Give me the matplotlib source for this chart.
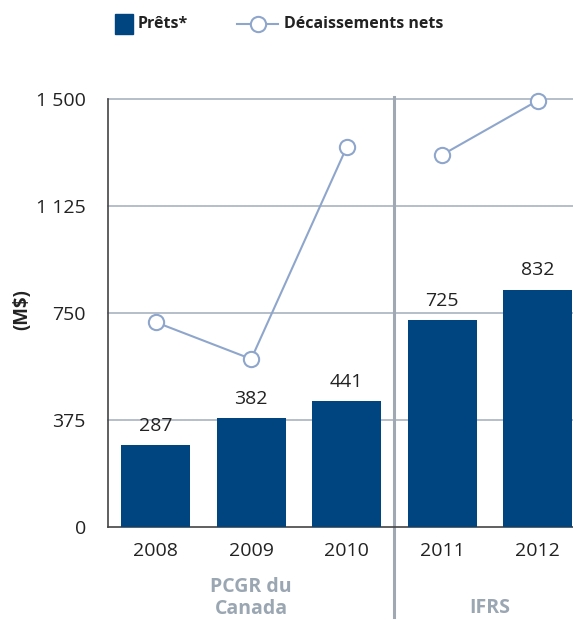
import matplotlib
matplotlib.use('Agg')
import matplotlib.pyplot as plt
from matplotlib.lines import Line2D
from matplotlib.patches import Rectangle
import numpy as np

plt.rcParams['font.family'] = ['Open Sans', 'DejaVu Sans']

annees = ['2008', '2009', '2010', '2011', '2012']
prets = [287, 382, 441, 725, 832]
decaissements = [718, 589, 1332, 1305, 1495]
graduations = [0, 375, 750, 1125, 1500]
etiquettes_y = ['0', '375', '750', '1 125', '1 500']

bleu = '#00457f'
bleu_ligne = '#8fa6cc'
gris_grille = '#a8b3c0'
gris_texte = '#9aa6b2'
noir = '#222222'

W, H = 573, 620
fig = plt.figure(figsize=(5.73, 6.2), dpi=100)
ax = fig.add_axes([0.1885, 0.150, 0.8115, 0.690])

x = np.arange(len(annees))

# barres des prêts
ax.bar(x, prets, width=0.72, color=bleu, zorder=3)
for xi, v in zip(x, prets):
    ax.text(xi, v + 36, f'{v}', ha='center', va='bottom', fontsize=14, color=noir)

# ligne interrompue au changement de normes
style = dict(color=bleu_ligne, lw=1.5, marker='o', ms=11, mfc='white',
             mec=bleu_ligne, mew=1.5, zorder=4, clip_on=False)
ax.plot(x[:3], decaissements[:3], **style)
ax.plot(x[3:], decaissements[3:], **style)

ax.set_ylim(0, 1500)
ax.set_xlim(-0.5, 4.37)
ax.set_yticks(graduations)
ax.set_yticklabels(etiquettes_y)
ax.set_xticks(x)
ax.set_xticklabels(annees)
ax.tick_params(length=0, labelsize=14, colors=noir)
ax.tick_params(axis='x', pad=11)
ax.tick_params(axis='y', pad=16)

for y in graduations[1:]:
    ax.axhline(y, color=gris_grille, lw=1.2, zorder=1, clip_on=False)

for s in ['top', 'right']:
    ax.spines[s].set_visible(False)
for s in ['left', 'bottom']:
    ax.spines[s].set_color('#444444')
    ax.spines[s].set_linewidth(1.2)

# séparation PCGR / IFRS
ax.axvline(2.5, ymin=-0.21, ymax=1.005, color='#a0a9b3', lw=2.2, clip_on=False, zorder=2)

fig.text(22 / W, 1 - 310 / H, '(M$)', rotation=90, fontsize=13.5,
         fontweight='bold', color=noir, ha='center', va='center')

ax.text(1, -0.116, 'PCGR du\nCanada', transform=ax.get_xaxis_transform(),
        ha='center', va='top', fontsize=14, fontweight='bold', color=gris_texte,
        linespacing=1.15)
ax.text(3.5, -0.167, 'IFRS', transform=ax.get_xaxis_transform(),
        ha='center', va='top', fontsize=14, fontweight='bold', color=gris_texte)

# légende
fig.patches.append(Rectangle((115 / W, 1 - 34 / H), 18 / W, 20 / H,
                             transform=fig.transFigure, color=bleu))
fig.text(138 / W, 1 - 24 / H, 'Prêts*', fontsize=11.5, fontweight='bold',
         color=noir, va='center', ha='left')
fig.add_artist(Line2D([237 / W, 278 / W], [1 - 24 / H, 1 - 24 / H],
                      transform=fig.transFigure, color=bleu_ligne, lw=1.5))
fig.add_artist(Line2D([258 / W], [1 - 24 / H], transform=fig.transFigure,
                      marker='o', ms=11, mfc='white', mec=bleu_ligne, mew=1.5))
fig.text(284 / W, 1 - 24 / H, 'Décaissements nets', fontsize=11.5,
         fontweight='bold', color=noir, va='center', ha='left')

fig.savefig('out.png', dpi=100)
